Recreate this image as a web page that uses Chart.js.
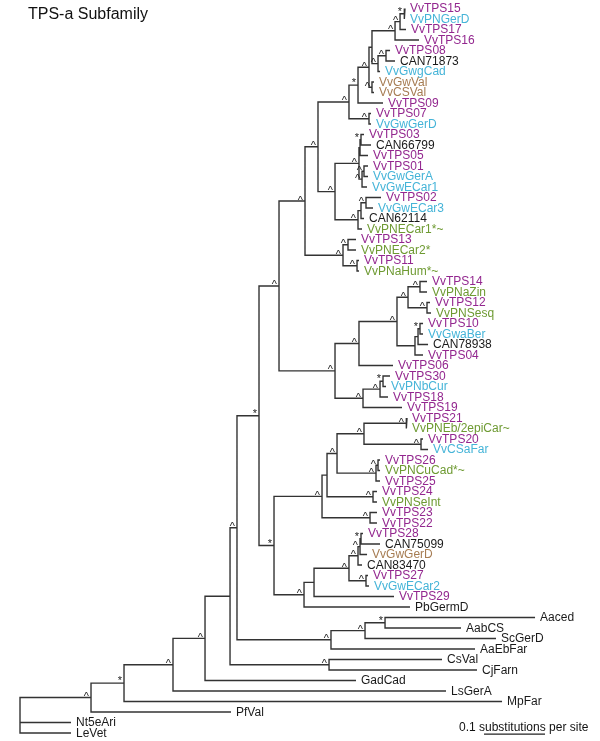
<!DOCTYPE html>
<html>
<head>
<meta charset="utf-8">
<title>TPS-a Subfamily</title>
<script src="https://cdn.jsdelivr.net/npm/chart.js@4.4.0/dist/chart.umd.min.js"></script>
<style>
  html, body { margin: 0; padding: 0; background: #fff; }
  #wrap { position: relative; width: 600px; height: 741px; }
</style>
</head>
<body>
<div id="wrap"><canvas id="tree"></canvas></div>
<script>
// TPS-a subfamily tree (drawn as branch polylines on a scatter chart)

const title = 'TPS-a Subfamily';
const scaleCaption = '0.1 substitutions per site';
const scaleLength = 0.1;

// leaves, top to bottom
const leafNames = [
  'VvTPS15', 'VvPNGerD', 'VvTPS17', 'VvTPS16', 'VvTPS08', 'CAN71873', 'VvGwgCad', 'VvGwVal', 'VvCSVal', 'VvTPS09',
  'VvTPS07', 'VvGwGerD', 'VvTPS03', 'CAN66799', 'VvTPS05', 'VvTPS01', 'VvGwGerA', 'VvGwECar1', 'VvTPS02', 'VvGwECar3',
  'CAN62114', 'VvPNECar1*~', 'VvTPS13', 'VvPNECar2*', 'VvTPS11', 'VvPNaHum*~', 'VvTPS14', 'VvPNaZin', 'VvTPS12', 'VvPNSesq',
  'VvTPS10', 'VvGwaBer', 'CAN78938', 'VvTPS04', 'VvTPS06', 'VvTPS30', 'VvPNbCur', 'VvTPS18', 'VvTPS19', 'VvTPS21',
  'VvPNEb/2epiCar~', 'VvTPS20', 'VvCSaFar', 'VvTPS26', 'VvPNCuCad*~', 'VvTPS25', 'VvTPS24', 'VvPNSeInt', 'VvTPS23', 'VvTPS22',
  'VvTPS28', 'CAN75099', 'VvGwGerD', 'CAN83470', 'VvTPS27', 'VvGwECar2', 'VvTPS29', 'PbGermD', 'Aaced', 'AabCS',
  'ScGerD', 'AaEbFar', 'CsVal', 'CjFarn', 'GadCad', 'LsGerA', 'MpFar', 'PfVal', 'Nt5eAri', 'LeVet'
];

// label colour group of each leaf
const leafClass = [
  'tps', 'gw', 'tps', 'tps', 'tps', 'ref', 'gw', 'val', 'val', 'tps',
  'tps', 'gw', 'tps', 'ref', 'tps', 'tps', 'gw', 'gw', 'tps', 'gw',
  'ref', 'pn', 'tps', 'pn', 'tps', 'pn', 'tps', 'pn', 'tps', 'pn',
  'tps', 'gw', 'ref', 'tps', 'tps', 'tps', 'gw', 'tps', 'tps', 'tps',
  'pn', 'tps', 'gw', 'tps', 'pn', 'tps', 'tps', 'pn', 'tps', 'tps',
  'tps', 'ref', 'val', 'ref', 'tps', 'gw', 'tps', 'ref', 'ref', 'ref',
  'ref', 'ref', 'ref', 'ref', 'ref', 'ref', 'ref', 'ref', 'ref', 'ref'
];

// distance of each leaf from the root (substitutions per site)
const leafDepth = [
  0.6311, 0.6311, 0.6328, 0.6541, 0.6066, 0.6148, 0.5902, 0.5803, 0.5803, 0.5951,
  0.5754, 0.5754, 0.5639, 0.5754, 0.5705, 0.5705, 0.5705, 0.5689, 0.5918, 0.5787,
  0.5639, 0.5607, 0.5508, 0.5508, 0.5557, 0.5557, 0.6672, 0.6672, 0.6721, 0.6738,
  0.6607, 0.6607, 0.6689, 0.6607, 0.6115, 0.6066, 0.6000, 0.6033, 0.6262, 0.6344,
  0.6344, 0.6607, 0.6689, 0.5902, 0.5902, 0.5902, 0.5852, 0.5852, 0.5852, 0.5852,
  0.5623, 0.5902, 0.5689, 0.5607, 0.5705, 0.5721, 0.6131, 0.6393, 0.8443, 0.7230,
  0.7803, 0.7459, 0.6918, 0.7492, 0.5508, 0.6984, 0.7902, 0.3459, 0.0836, 0.0836
];

// internal nodes: id, depth, children (leaf index or node id), support mark
const nodeIds = [
  'root', 'A', 'B', 'C', 'D', 'V', 'W', 'G', 'F', 'F2', 'F1',
  'X', 'Y', 'P', 'T0', 'T1', 'M', 'Dm', 'E', 'A3', 'A2', 'A1', 'B2', 'B1', 'B3', 'N7',
  'T2', 'Nh', 'Ne', 'Nd', 'Ng', 'Nf', 'Nc', 'Nb', 'Na',
  'R', 'R1', 'R2',
  'S', 'S1', 'S1a', 'S1b', 'S1e', 'S1f', 'S1c', 'S1d', 'S1g', 'S2', 'S2a', 'S2b',
  'Z', 'Z1', 'Z1a', 'Z1c', 'Z1e', 'Z1g', 'Z1h', 'Z1f', 'Z1i', 'Z1d', 'Z1b',
  'Z2', 'Z2a', 'Z2b', 'Z2c', 'Z2e', 'Z2f', 'Z2d'
];

const nodeDepth = [
  0, 0.1164, 0.1705, 0.2508, 0.3033, 0.3443, 0.3557, 0.5066, 0.5098, 0.5656, 0.5984,
  0.3918, 0.4246, 0.4672, 0.4885, 0.5393, 0.5541, 0.5721, 0.5770, 0.6148, 0.6230, 0.6295, 0.5869, 0.6000, 0.5770, 0.5721,
  0.5164, 0.5557, 0.5574, 0.5590, 0.5607, 0.5639, 0.5541, 0.5590, 0.5672,
  0.5295, 0.5377, 0.5525,
  0.5164, 0.5557, 0.6180, 0.6361, 0.6557, 0.6672, 0.6475, 0.6525, 0.6557, 0.5623, 0.5902, 0.5951,
  0.4164, 0.4951, 0.5033, 0.5197, 0.5639, 0.6328, 0.6574, 0.5836, 0.5869, 0.5787, 0.5738,
  0.4656, 0.4820, 0.5393, 0.5541, 0.5574, 0.5590, 0.5672
];

const nodeChildren = [
  ['A', 68, 69], ['B', 67], ['C', 66], ['D', 65], ['V', 64], ['W', 'G'], ['X', 'F'], [62, 63], ['F2', 61], ['F1', 60], [58, 59],
  ['Y', 'Z'], ['P', 'S'], ['T0', 'R'], ['T1', 'T2'], ['M', 'N7'], ['Dm', 9], ['E', 'B3'], ['A3', 'B2'], ['A2', 3], ['A1', 2], [0, 1], ['B1', 6], [4, 5], [7, 8], [10, 11],
  ['Nh', 'Nc'], ['Ne', 'Ng'], ['Nd', 14], [12, 13], ['Nf', 17], [15, 16], ['Nb', 21], ['Na', 20], [18, 19],
  ['R1', 'R2'], [22, 23], [24, 25],
  ['S1', 'S2'], ['S1a', 34], ['S1b', 'S1c'], ['S1e', 'S1f'], [26, 27], [28, 29], ['S1d', 33], ['S1g', 32], [30, 31], ['S2a', 38], ['S2b', 37], [35, 36],
  ['Z1', 'Z2'], ['Z1a', 'Z1b'], ['Z1c', 'Z1d'], ['Z1e', 'Z1f'], ['Z1g', 'Z1h'], [39, 40], [41, 42], ['Z1i', 45], [43, 44], [46, 47], [48, 49],
  ['Z2a', 57], ['Z2b', 56], ['Z2c', 'Z2d'], ['Z2e', 53], ['Z2f', 52], [50, 51], [54, 55]
];

const nodeSupport = [
  '', '^', '*', '^', '^', '', '^', '^', '^', '^', '*',
  '*', '^', '^', '^', '^', '*', '^', '', '^', '^', '*', '^', '^', '^', '^',
  '^', '^', '', '*', '^', '^', '^', '', '^',
  '^', '^', '^',
  '^', '^', '^', '^', '^', '^', '', '', '*', '^', '^', '*',
  '*', '^', '', '^', '^', '^', '^', '^', '^', '^', '^',
  '^', '', '^', '^', '^', '*', '^'
];

const classColors = {
  tps: '#93278f',
  gw: '#45b4d8',
  val: '#a67c52',
  pn: '#6e9a32',
  ref: '#1a1a1a'
};
const fontFamily = '"Liberation Sans", Arial, Helvetica, sans-serif';

// node lookup and vertical positions (midpoint of first and last child)
const nodeIndex = {};
nodeIds.forEach((id, i) => { nodeIndex[id] = i; });
const nodeY = [];

function yOf(ref) {
  if (typeof ref === 'number') return ref;
  const i = nodeIndex[ref];
  if (nodeY[i] === undefined) {
    const kids = nodeChildren[i];
    nodeY[i] = (yOf(kids[0]) + yOf(kids[kids.length - 1])) / 2;
  }
  return nodeY[i];
}
function xOf(ref) {
  return typeof ref === 'number' ? leafDepth[ref] : nodeDepth[nodeIndex[ref]];
}
nodeIds.forEach(id => yOf(id));

// branch polylines, split by gaps
const branchPoints = [];
const gap = { x: NaN, y: NaN };
nodeIds.forEach((id, i) => {
  const kids = nodeChildren[i];
  const x = nodeDepth[i];
  const first = kids[0];
  const last = kids[kids.length - 1];
  branchPoints.push(
    { x: xOf(first), y: yOf(first) }, { x: x, y: yOf(first) },
    { x: x, y: yOf(last) }, { x: xOf(last), y: yOf(last) }, gap
  );
  kids.slice(1, -1).forEach(k => {
    branchPoints.push({ x: x, y: yOf(k) }, { x: xOf(k), y: yOf(k) }, gap);
  });
});

// scale bar placement
const barX = 0.7607;
const barY = 69.1;

const treeText = {
  id: 'treeText',
  afterDatasetsDraw(chart) {
    const { ctx, scales: { x, y } } = chart;
    ctx.save();

    // leaf labels
    ctx.font = '12px ' + fontFamily;
    ctx.textAlign = 'left';
    ctx.textBaseline = 'middle';
    leafNames.forEach((name, i) => {
      ctx.fillStyle = classColors[leafClass[i]];
      ctx.fillText(name, x.getPixelForValue(leafDepth[i]) + 5, y.getPixelForValue(i) + 0.5);
    });

    // support marks, just left of each node on its incoming branch
    ctx.font = '11px ' + fontFamily;
    ctx.fillStyle = '#222';
    ctx.textAlign = 'right';
    ctx.textBaseline = 'alphabetic';
    nodeIds.forEach((id, i) => {
      const mark = nodeSupport[i];
      if (!mark) return;
      const px = x.getPixelForValue(nodeDepth[i]) - 2;
      const py = y.getPixelForValue(nodeY[i]);
      ctx.fillText(mark, px, mark === '*' ? py + 1 : py + 2.5);
    });

    // title and scale caption
    ctx.textAlign = 'left';
    ctx.fillStyle = '#111';
    ctx.font = '16px ' + fontFamily;
    ctx.fillText(title, 28, 18.5);
    ctx.font = '12px ' + fontFamily;
    ctx.fillText(scaleCaption, 459, 731);

    ctx.restore();
  }
};

new Chart(document.getElementById('tree'), {
  type: 'scatter',
  data: {
    datasets: [
      {
        data: branchPoints,
        showLine: true,
        spanGaps: false,
        borderColor: '#333',
        borderWidth: 1.4,
        borderJoinStyle: 'miter',
        borderCapStyle: 'butt',
        pointRadius: 0
      },
      {
        data: [{ x: barX, y: barY }, { x: barX + scaleLength, y: barY }],
        showLine: true,
        borderColor: '#222',
        borderWidth: 1.2,
        pointRadius: 0
      }
    ]
  },
  options: {
    responsive: true,
    maintainAspectRatio: false,
    animation: false,
    layout: { padding: 0 },
    plugins: { legend: { display: false }, tooltip: { enabled: false } },
    scales: {
      x: { type: 'linear', display: false, min: -0.0328, max: 0.9508 },
      y: { type: 'linear', display: false, reverse: true, min: -0.81, max: 69.762 }
    }
  },
  plugins: [treeText]
});
</script>
</body>
</html>
